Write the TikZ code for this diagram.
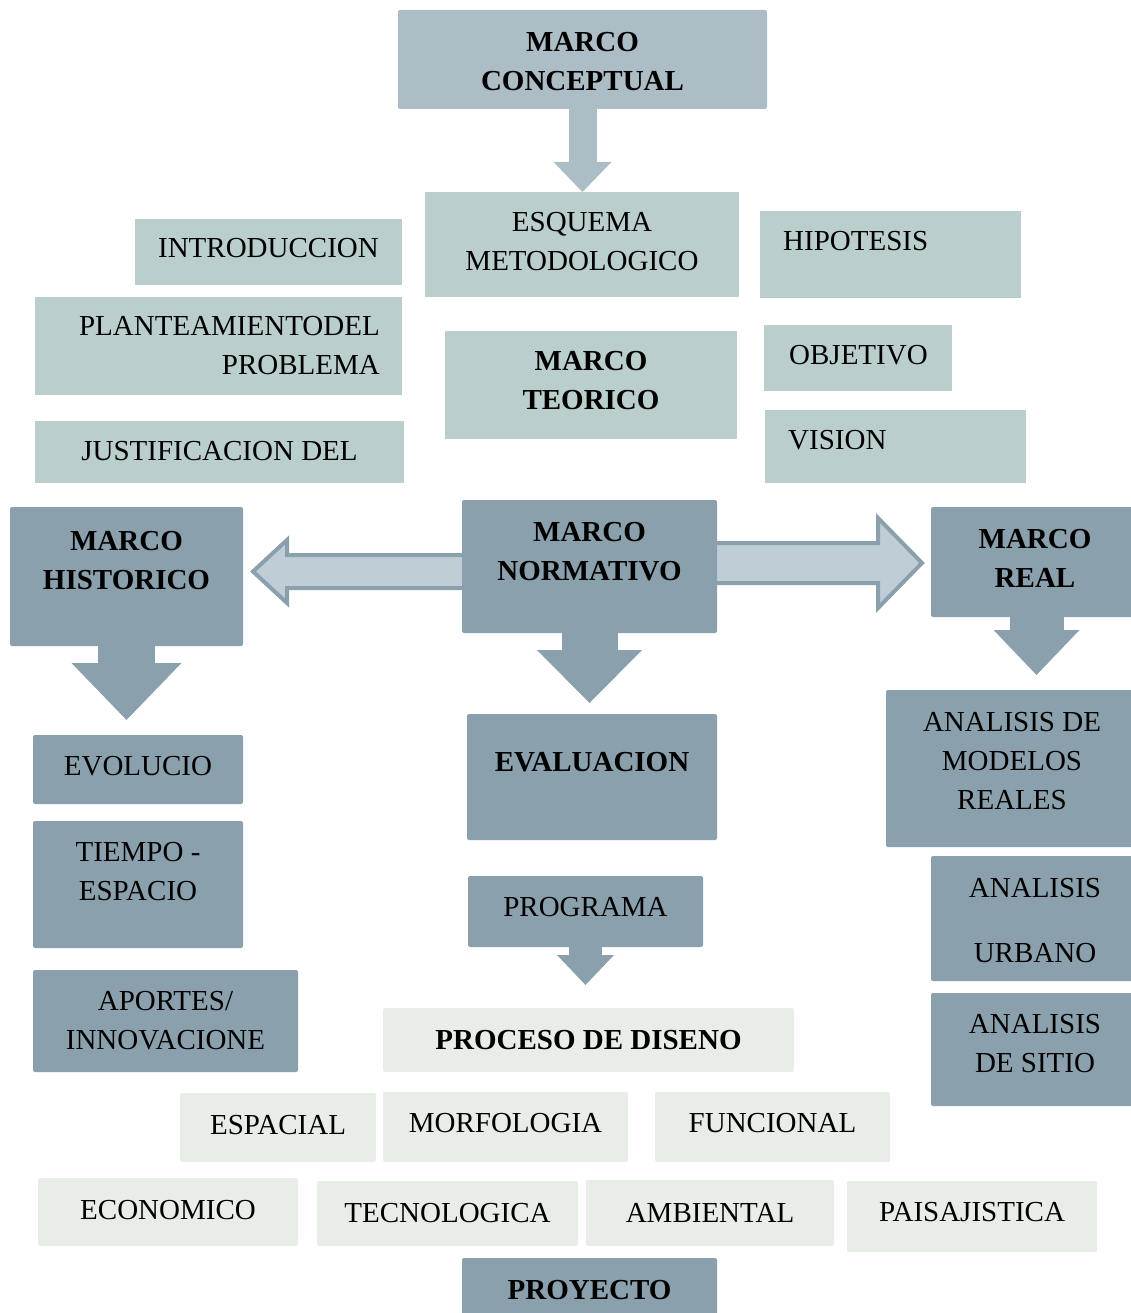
\documentclass[tikz,border=0pt]{standalone}
\usepackage{fontspec}
\setmainfont{Liberation Serif}
\usetikzlibrary{arrows.meta, calc, backgrounds}

\definecolor{marcodark}{HTML}{8AA1AD}
\definecolor{marcotop}{HTML}{ADBDC6}
\definecolor{marcoteal}{HTML}{B9CECD}
\definecolor{marcolight}{HTML}{E8EDE8}
\definecolor{marcoarrow}{HTML}{BFCDD6}

\tikzset{
  blk/.style={anchor=north west, inner sep=0pt, outer sep=0pt},
  darkbox/.style={blk, fill=marcodark, rounded corners=2pt},
  topbox/.style={blk, fill=marcotop, rounded corners=2pt},
  tealbox/.style={blk, fill=marcoteal},
  lightbox/.style={blk, fill=marcolight, rounded corners=2pt},
  txt/.style={align=center, inner sep=0pt},
  btxt/.style={txt, font=\bfseries},
  blockarrow/.style n args={4}{draw=#1, line width=#2pt, -{Triangle[width=#3pt, length=#4pt, line width=0pt]}},
  hollowarrow/.style={fill=marcoarrow, draw=marcodark, line width=4pt, line join=miter},
}

\begin{document}
\fontsize{29pt}{39pt}\selectfont
\begin{tikzpicture}[x=1pt, y=-1pt]
    \useasboundingbox (0,0) rectangle (1131,1313);

    % top part
    \node (concept) [topbox, minimum width=369pt, minimum height=99pt, label={[btxt, yshift=-2pt]center:{MARCO\\CONCEPTUAL}}] at (398,10) {};
    \node (esquema) [tealbox, minimum width=314pt, minimum height=105pt, label={[txt, yshift=2.5pt]center:{ESQUEMA\\METODOLOGICO}}] at (425,192) {};
    \node (intro) [tealbox, minimum width=267pt, minimum height=66pt, label={[txt, yshift=4pt]center:INTRODUCCION}] at (135,219) {};
    \node (hipotesis) [tealbox, minimum width=261pt, minimum height=87pt, label={[txt, anchor=west, xshift=23pt, yshift=13.5pt]west:HIPOTESIS}] at (760,211) {};
    \node (planteamiento) [tealbox, minimum width=367pt, minimum height=98pt, label={[txt, align=right, anchor=east, xshift=-22pt, yshift=0.5pt]east:{PLANTEAMIENTODEL\\PROBLEMA}}] at (35,297) {};
    \node (teorico) [tealbox, minimum width=292pt, minimum height=108pt, label={[btxt, yshift=4.5pt]center:{MARCO\\TEORICO}}] at (445,331) {};
    \node (objetivo) [tealbox, minimum width=188pt, minimum height=66pt, label={[txt, anchor=west, xshift=25pt, yshift=3pt]west:OBJETIVO}] at (764,325) {};
    \node (justificacion) [tealbox, minimum width=369pt, minimum height=62pt, label={[txt, yshift=1pt]center:{JUSTIFICACION DEL}}] at (35,421) {};
    \node (vision) [tealbox, minimum width=261pt, minimum height=73pt, label={[txt, anchor=west, xshift=23pt, yshift=6.5pt]west:VISION}] at (765,410) {};

    % the three marcos
    \node (historico) [darkbox, minimum width=233pt, minimum height=139pt, label={[btxt, yshift=15.5pt]center:{MARCO\\HISTORICO}}] at (10,507) {};
    \node (normativo) [darkbox, minimum width=255pt, minimum height=133pt, label={[btxt, yshift=15pt]center:{MARCO\\NORMATIVO}}] at (462,500) {};
    \node (real) [darkbox, minimum width=203pt, minimum height=110pt, label={[btxt, xshift=2.5pt, yshift=3.5pt]center:{MARCO\\REAL}}] at (931,507) {};

    \node (evolucio) [darkbox, minimum width=210pt, minimum height=69pt, label={[txt, yshift=3.5pt]center:EVOLUCIO}] at (33,735) {};
    \node (tiempo) [darkbox, minimum width=210pt, minimum height=127pt, label={[txt, yshift=13pt]center:{TIEMPO -\\ESPACIO}}] at (33,821) {};
    \node (aportes) [darkbox, minimum width=265pt, minimum height=102pt, label={[txt]center:{APORTES/\\INNOVACIONE}}] at (33,970) {};

    \node (evaluacion) [darkbox, minimum width=250pt, minimum height=126pt, label={[btxt, yshift=15pt]center:EVALUACION}] at (467,714) {};
    \node (programa) [darkbox, minimum width=235pt, minimum height=71pt, label={[txt, yshift=4.5pt]center:PROGRAMA}] at (468,876) {};

    \node (modelos) [darkbox, minimum width=248pt, minimum height=157pt, label={[txt, xshift=2pt, yshift=7.5pt]center:{ANALISIS DE\\MODELOS\\REALES}}] at (886,690) {};
    \node (urbano) [darkbox, minimum width=203pt, minimum height=125pt, label={[txt, xshift=2.5pt, yshift=-2pt]center:{ANALISIS\\[26pt]URBANO}}] at (931,856) {};
    \node (sitio) [darkbox, minimum width=203pt, minimum height=113pt, label={[txt, xshift=2.5pt, yshift=6pt]center:{ANALISIS\\DE SITIO}}] at (931,993) {};

    % proceso de diseno
    \node (proceso) [lightbox, minimum width=411pt, minimum height=64pt, label={[btxt]center:{PROCESO DE DISENO}}] at (383,1008) {};
    \node (espacial) [lightbox, minimum width=196pt, minimum height=69pt, label={[txt, yshift=2.5pt]center:ESPACIAL}] at (180,1093) {};
    \node (morfologia) [lightbox, minimum width=245pt, minimum height=70pt, label={[txt, yshift=4pt]center:MORFOLOGIA}] at (383,1092) {};
    \node (funcional) [lightbox, minimum width=235pt, minimum height=70pt, label={[txt, yshift=4pt]center:FUNCIONAL}] at (655,1092) {};
    \node (economico) [lightbox, minimum width=260pt, minimum height=68pt, label={[txt, yshift=2pt]center:ECONOMICO}] at (38,1178) {};
    \node (tecnologica) [lightbox, minimum width=261pt, minimum height=65pt, label={[txt]center:TECNOLOGICA}] at (317,1181) {};
    \node (ambiental) [lightbox, minimum width=248pt, minimum height=66pt, label={[txt]center:AMBIENTAL}] at (586,1180) {};
    \node (paisajistica) [lightbox, minimum width=250pt, minimum height=71pt, label={[txt, yshift=4.5pt]center:PAISAJISTICA}] at (847,1181) {};
    \node (proyecto) [darkbox, minimum width=255pt, minimum height=64pt, label={[btxt]center:PROYECTO}] at (462,1258) {};

    % block arrows
    \draw[blockarrow={marcotop}{28}{58}{30}] (concept.south) -- (concept.south |- esquema.north);
    \draw[blockarrow={marcodark}{57}{110}{57}] (historico.south) -- ([yshift=15pt]historico.south |- evolucio.north);
    \draw[blockarrow={marcodark}{56}{105}{53}] (normativo.south) -- ([yshift=11pt]normativo.south |- evaluacion.north);
    \draw[blockarrow={marcodark}{54}{86}{45}] ([xshift=4pt]real.south) -- ([xshift=4pt, yshift=15pt]real.south |- modelos.north);
    \draw[blockarrow={marcodark}{33}{57}{30}] (programa.south) -- ([yshift=23pt]programa.south |- proceso.north);

    \begin{scope}[on background layer]
    \draw[hollowarrow] ($(normativo.west)+(5,-11.5)$) -- ++(-180,0) -- ++(0,-15) -- ($(historico.east)+(10,-5)$) -- ++(34,31.5) -- ++(0,-15) -- ++(180,0) -- cycle;
    \draw[hollowarrow] ($(normativo.east)+(-5,-23.5)$) -- ++(166,0) -- ++(0,-25) -- ($(real.west)+(-9,1)$) -- ++(-44,45) -- ++(0,-25) -- ++(-166,0) -- cycle;
    \end{scope}

\end{tikzpicture}
\end{document}
